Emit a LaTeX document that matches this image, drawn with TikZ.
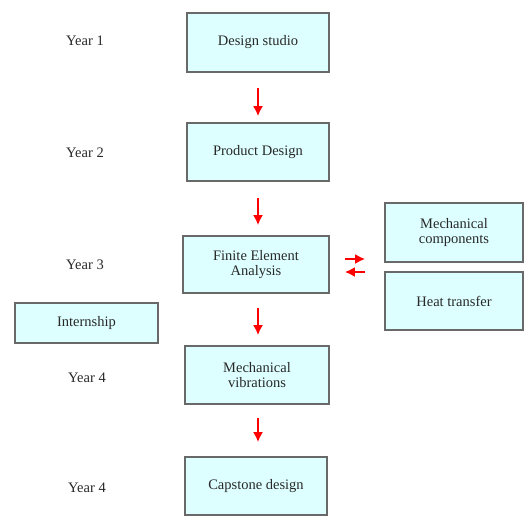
\documentclass[tikz,border=0pt]{standalone}
\usepackage{fontspec}
\setmainfont{Liberation Serif}
\usetikzlibrary{arrows.meta}
\definecolor{boxfill}{RGB}{222,255,255}
\definecolor{boxline}{RGB}{105,105,105}
\definecolor{txt}{RGB}{40,40,40}
\begin{document}
\begin{tikzpicture}[x=1pt, y=-1pt, >={Latex[length=10pt,width=10pt]},
	course/.style={draw=boxline, fill=boxfill, line width=1.6pt, text=txt,
		align=center, inner sep=2pt, font=\fontsize{14.5}{15.5}\selectfont},
	year/.style={text=txt, font=\fontsize{14.5}{16}\selectfont},
	flow/.style={->, red, line width=2.8pt}]
	\useasboundingbox (0,0) rectangle (524,517);

	% year labels
	\node [year] (y1) at (85,41) {Year 1};
	\node [year] (y2) at (85,153) {Year 2};
	\node [year] (y3) at (85,265) {Year 3};
	\node [year] (y4) at (87,378) {Year 4};
	\node [year] (y5) at (87,488) {Year 4};

	% main sequence
	\node [course, minimum width=142pt, minimum height=59pt]
	(ds) at (258,42.5) {Design studio};
	\node [course, minimum width=142pt, minimum height=58pt]
	(pd) at (258,152) {Product Design};
	\node [course, minimum width=146pt, minimum height=57pt]
	(fea) at (256,264.5) {Finite Element\\Analysis};
	\node [course, minimum width=144pt, minimum height=58pt]
	(mv) at (257,375) {Mechanical\\vibrations};
	\node [course, minimum width=142pt, minimum height=58pt]
	(cd) at (256,486) {Capstone design};

	% side courses
	\node [course, minimum width=138pt, minimum height=59pt]
	(mc) at (454,232.5) {Mechanical\\components};
	\node [course, minimum width=138pt, minimum height=58pt]
	(ht) at (454,301) {Heat transfer};
	\node [course, minimum width=143pt, minimum height=40pt]
	(is) at (86.5,323) {Internship};

	\coordinate (axis) at (258,0);
	\draw[flow, shorten <=15pt, shorten >=6pt] (ds.south -| axis) -- (pd.north -| axis);
	\draw[flow, shorten <=16pt, shorten >=10pt] (pd.south -| axis) -- (fea.north -| axis);
	\draw[flow, shorten <=14pt, shorten >=10pt] (fea.south -| axis) -- (mv.north -| axis);
	\draw[flow, shorten <=13pt, shorten >=14pt] (mv.south -| axis) -- (cd.north -| axis);

	\draw[flow, shorten <=15pt, shorten >=19pt] (fea.east |- 0,259) -- (mc.west |- 0,259);
	\draw[flow, shorten <=19pt, shorten >=15pt] (mc.west |- 0,272) -- (fea.east |- 0,272);
\end{tikzpicture}
\end{document}
